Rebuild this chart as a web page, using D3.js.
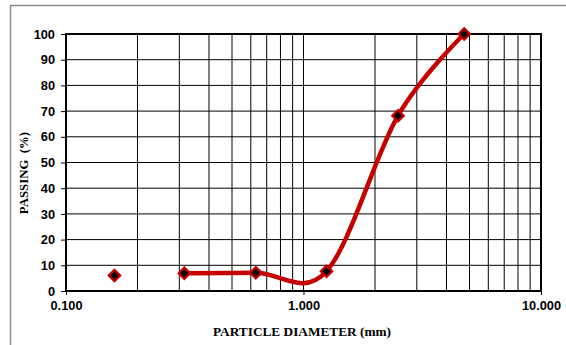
<!DOCTYPE html>
<html>
<head>
<meta charset="utf-8">
<script src="https://cdn.jsdelivr.net/npm/d3@7"></script>
<style>
  html, body { margin: 0; padding: 0; background: #fff; }
  svg { display: block; }
</style>
</head>
<body>
<svg id="chart" width="566" height="345"></svg>
<script>
// Grain size distribution (sieve analysis)
const sieveSizes = [0.16, 0.315, 0.63, 1.25, 2.5, 4.75];   // mm
const passing    = [6.0, 6.9, 7.1, 7.7, 68.2, 100];         // %
const curveFrom  = 1;                                        // smoothed line starts at this sieve
const xTickValues = [0.1, 1, 10];
const yTickValues = [0, 10, 20, 30, 40, 50, 60, 70, 80, 90, 100];

const svg = d3.select("#chart");
const plot = { left: 66, right: 541, top: 34, bottom: 291 };
const red = "#c40000";

// outer frame
svg.append("rect")
  .attr("x", 10.5).attr("y", 5.5)
  .attr("width", 600).attr("height", 400)
  .attr("fill", "none").attr("stroke", "#8c8c8c").attr("stroke-width", 1.5);

const x = d3.scaleLog().domain([0.1, 10]).range([plot.left, plot.right]);
const y = d3.scaleLinear().domain([0, 100]).range([plot.bottom, plot.top]);

// gridlines
const grid = svg.append("g").attr("stroke", "#000").attr("stroke-width", 1);
grid.selectAll("line.v").data(x.ticks()).join("line")
  .attr("class", "v")
  .attr("x1", d => x(d)).attr("x2", d => x(d))
  .attr("y1", plot.top).attr("y2", plot.bottom);
grid.selectAll("line.h").data(yTickValues).join("line")
  .attr("class", "h")
  .attr("x1", plot.left).attr("x2", plot.right)
  .attr("y1", d => y(d)).attr("y2", d => y(d));

// axes
const font = "'Liberation Sans', Arial, sans-serif";
const yAxis = svg.append("g")
  .attr("transform", `translate(${plot.left},0)`)
  .call(d3.axisLeft(y).tickValues(yTickValues).tickSize(5).tickPadding(6));
const xAxis = svg.append("g")
  .attr("transform", `translate(0,${plot.bottom})`)
  .call(d3.axisBottom(x).tickValues(xTickValues).tickFormat(d3.format(".3f")).tickSize(4).tickPadding(6));
[yAxis, xAxis].forEach(a => {
  a.select(".domain").remove();
  a.selectAll(".tick line").attr("stroke", "#000").attr("stroke-width", 1);
  a.selectAll(".tick text")
    .attr("fill", "#000")
    .style("font-family", font).style("font-weight", "bold").style("font-size", "12.8px");
});

// plot area border
svg.append("rect")
  .attr("x", plot.left).attr("y", plot.top)
  .attr("width", plot.right - plot.left).attr("height", plot.bottom - plot.top)
  .attr("fill", "none").attr("stroke", "#000").attr("stroke-width", 2);

// smoothed gradation curve
const pts = sieveSizes.map((d, i) => ({ size: d, pass: passing[i] }));
const line = d3.line()
  .x(d => x(d.size)).y(d => y(d.pass))
  .curve(d3.curveCatmullRom.alpha(0));
svg.append("path")
  .datum(pts.slice(curveFrom))
  .attr("d", line)
  .attr("fill", "none").attr("stroke", red).attr("stroke-width", 4.5)
  .attr("stroke-linejoin", "round");

// diamond markers
const sq = d3.symbol().type(d3.symbolSquare).size(64);
svg.append("g").selectAll("path").data(pts).join("path")
  .attr("d", sq)
  .attr("transform", d => `translate(${x(d.size)},${y(d.pass)}) rotate(45)`)
  .attr("fill", "#000").attr("stroke", red).attr("stroke-width", 2.3);

// axis titles
const serif = "'Liberation Serif', 'Times New Roman', serif";
svg.append("text")
  .attr("x", 302).attr("y", 336)
  .attr("text-anchor", "middle")
  .style("font-family", serif).style("font-weight", "bold").style("font-size", "13.3px")
  .text("PARTICLE DIAMETER (mm)");
svg.append("text")
  .attr("transform", "translate(28,173) rotate(-90)")
  .attr("text-anchor", "middle")
  .style("font-family", serif).style("font-weight", "bold").style("font-size", "12.8px")
  .style("white-space", "pre")
  .text("PASSING  (%)");
</script>
</body>
</html>
